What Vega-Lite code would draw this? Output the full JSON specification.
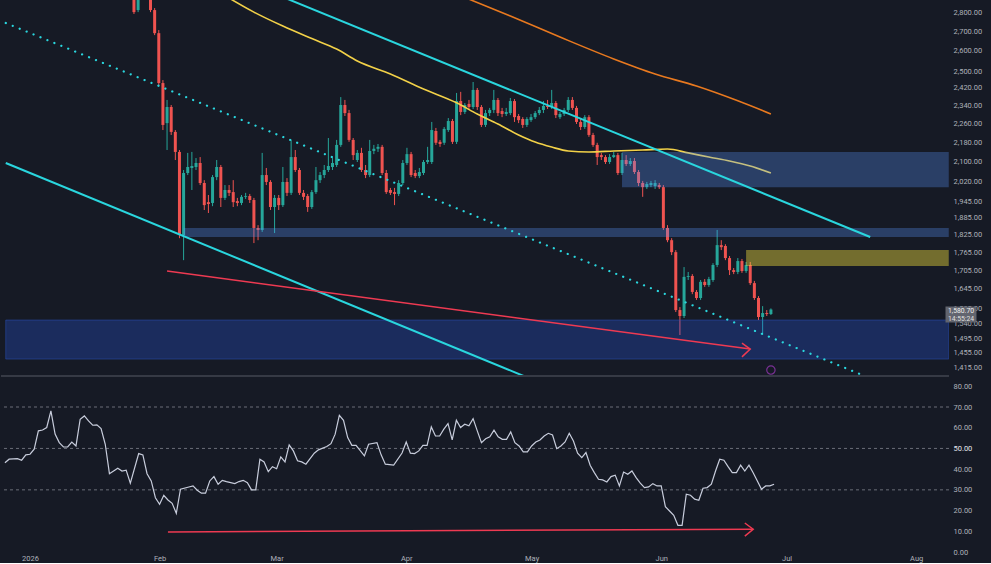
{
  "$schema": "https://vega.github.io/schema/vega-lite/v6.json",
  "background": "#161a25",
  "padding": {"left": 0, "top": 0, "right": 9, "bottom": 1},
  "spacing": 2,
  "bounds": "flush",
  "datasets": {
    "candles": [
      {"date":"2026-01-25","o":2977,"h":3034,"l":2790,"c":2800},
      {"date":"2026-01-26","o":2811,"h":2977,"l":2800,"c":2894},
      {"date":"2026-01-29","o":2894,"h":2921,"l":2800,"c":2811},
      {"date":"2026-01-30","o":2811,"h":2822,"l":2679,"c":2689},
      {"date":"2026-01-31","o":2689,"h":2705,"l":2429,"c":2443},
      {"date":"2026-02-01","o":2443,"h":2457,"l":2232,"c":2254},
      {"date":"2026-02-02","o":2262,"h":2365,"l":2148,"c":2333},
      {"date":"2026-02-03","o":2333,"h":2342,"l":2211,"c":2224},
      {"date":"2026-02-04","o":2224,"h":2232,"l":2107,"c":2140},
      {"date":"2026-02-05","o":2140,"h":2148,"l":1813,"c":1824},
      {"date":"2026-02-06","o":1824,"h":2067,"l":1738,"c":2055},
      {"date":"2026-02-07","o":2055,"h":2136,"l":2047,"c":2079},
      {"date":"2026-02-08","o":2075,"h":2140,"l":1989,"c":2083},
      {"date":"2026-02-09","o":2079,"h":2115,"l":2067,"c":2095},
      {"date":"2026-02-10","o":2095,"h":2119,"l":2008,"c":2016},
      {"date":"2026-02-11","o":2016,"h":2027,"l":1914,"c":1932},
      {"date":"2026-02-12","o":1943,"h":1970,"l":1903,"c":1936},
      {"date":"2026-02-13","o":1940,"h":2047,"l":1928,"c":2039},
      {"date":"2026-02-14","o":2039,"h":2107,"l":2027,"c":2079},
      {"date":"2026-02-15","o":2079,"h":2087,"l":1925,"c":1959},
      {"date":"2026-02-16","o":1959,"h":2008,"l":1951,"c":1989},
      {"date":"2026-02-17","o":1989,"h":2008,"l":1966,"c":1978},
      {"date":"2026-02-18","o":1981,"h":2027,"l":1925,"c":1943},
      {"date":"2026-02-19","o":1947,"h":1959,"l":1928,"c":1940},
      {"date":"2026-02-20","o":1940,"h":1970,"l":1932,"c":1963},
      {"date":"2026-02-21","o":1963,"h":1978,"l":1955,"c":1966},
      {"date":"2026-02-22","o":1966,"h":1974,"l":1940,"c":1951},
      {"date":"2026-02-23","o":1951,"h":1959,"l":1796,"c":1849},
      {"date":"2026-02-24","o":1849,"h":1859,"l":1806,"c":1842},
      {"date":"2026-02-25","o":1842,"h":2136,"l":1835,"c":2047},
      {"date":"2026-02-26","o":2047,"h":2075,"l":2008,"c":2020},
      {"date":"2026-02-27","o":2020,"h":2027,"l":1914,"c":1925},
      {"date":"2026-02-28","o":1925,"h":1970,"l":1831,"c":1959},
      {"date":"2026-03-01","o":1959,"h":1970,"l":1914,"c":1932},
      {"date":"2026-03-02","o":1932,"h":2079,"l":1925,"c":2020},
      {"date":"2026-03-03","o":2020,"h":2035,"l":1966,"c":1978},
      {"date":"2026-03-04","o":1978,"h":2190,"l":1970,"c":2119},
      {"date":"2026-03-05","o":2119,"h":2148,"l":2059,"c":2067},
      {"date":"2026-03-06","o":2067,"h":2075,"l":1970,"c":1978},
      {"date":"2026-03-07","o":1978,"h":1989,"l":1951,"c":1963},
      {"date":"2026-03-08","o":1966,"h":1974,"l":1907,"c":1925},
      {"date":"2026-03-09","o":1925,"h":1989,"l":1918,"c":1981},
      {"date":"2026-03-10","o":1981,"h":2079,"l":1974,"c":2027},
      {"date":"2026-03-11","o":2027,"h":2059,"l":2016,"c":2047},
      {"date":"2026-03-12","o":2047,"h":2087,"l":2035,"c":2067},
      {"date":"2026-03-13","o":2067,"h":2198,"l":2059,"c":2083},
      {"date":"2026-03-14","o":2079,"h":2115,"l":2067,"c":2095},
      {"date":"2026-03-15","o":2087,"h":2190,"l":2079,"c":2169},
      {"date":"2026-03-16","o":2169,"h":2378,"l":2161,"c":2342},
      {"date":"2026-03-17","o":2342,"h":2365,"l":2293,"c":2306},
      {"date":"2026-03-18","o":2306,"h":2320,"l":2182,"c":2190},
      {"date":"2026-03-19","o":2190,"h":2198,"l":2107,"c":2127},
      {"date":"2026-03-20","o":2107,"h":2148,"l":2099,"c":2136},
      {"date":"2026-03-21","o":2136,"h":2157,"l":2059,"c":2067},
      {"date":"2026-03-22","o":2067,"h":2087,"l":2035,"c":2047},
      {"date":"2026-03-23","o":2047,"h":2190,"l":2039,"c":2144},
      {"date":"2026-03-24","o":2144,"h":2169,"l":2131,"c":2153},
      {"date":"2026-03-25","o":2153,"h":2173,"l":2140,"c":2161},
      {"date":"2026-03-26","o":2161,"h":2169,"l":2047,"c":2055},
      {"date":"2026-03-27","o":2055,"h":2067,"l":1974,"c":1981},
      {"date":"2026-03-28","o":1989,"h":1997,"l":1970,"c":1978},
      {"date":"2026-03-29","o":1981,"h":1997,"l":1932,"c":1974},
      {"date":"2026-03-30","o":1974,"h":2027,"l":1966,"c":2016},
      {"date":"2026-03-31","o":2016,"h":2107,"l":2008,"c":2095},
      {"date":"2026-04-01","o":2095,"h":2157,"l":2087,"c":2131},
      {"date":"2026-04-02","o":2131,"h":2140,"l":2039,"c":2047},
      {"date":"2026-04-03","o":2055,"h":2067,"l":2035,"c":2043},
      {"date":"2026-04-04","o":2043,"h":2075,"l":2035,"c":2059},
      {"date":"2026-04-05","o":2055,"h":2107,"l":2047,"c":2099},
      {"date":"2026-04-06","o":2099,"h":2161,"l":2091,"c":2107},
      {"date":"2026-04-07","o":2099,"h":2267,"l":2091,"c":2232},
      {"date":"2026-04-08","o":2228,"h":2241,"l":2169,"c":2178},
      {"date":"2026-04-09","o":2182,"h":2190,"l":2161,"c":2173},
      {"date":"2026-04-10","o":2178,"h":2245,"l":2169,"c":2237},
      {"date":"2026-04-11","o":2232,"h":2284,"l":2224,"c":2271},
      {"date":"2026-04-12","o":2271,"h":2280,"l":2173,"c":2182},
      {"date":"2026-04-13","o":2182,"h":2397,"l":2173,"c":2360},
      {"date":"2026-04-14","o":2360,"h":2402,"l":2297,"c":2311},
      {"date":"2026-04-15","o":2311,"h":2351,"l":2302,"c":2342},
      {"date":"2026-04-16","o":2347,"h":2365,"l":2320,"c":2333},
      {"date":"2026-04-17","o":2333,"h":2448,"l":2324,"c":2411},
      {"date":"2026-04-18","o":2411,"h":2420,"l":2320,"c":2333},
      {"date":"2026-04-19","o":2333,"h":2342,"l":2245,"c":2254},
      {"date":"2026-04-20","o":2254,"h":2320,"l":2245,"c":2306},
      {"date":"2026-04-21","o":2306,"h":2329,"l":2293,"c":2320},
      {"date":"2026-04-22","o":2320,"h":2411,"l":2306,"c":2365},
      {"date":"2026-04-23","o":2365,"h":2374,"l":2293,"c":2306},
      {"date":"2026-04-24","o":2315,"h":2329,"l":2288,"c":2302},
      {"date":"2026-04-25","o":2302,"h":2329,"l":2293,"c":2311},
      {"date":"2026-04-26","o":2306,"h":2374,"l":2297,"c":2360},
      {"date":"2026-04-27","o":2360,"h":2369,"l":2267,"c":2288},
      {"date":"2026-04-28","o":2293,"h":2302,"l":2262,"c":2275},
      {"date":"2026-04-29","o":2280,"h":2288,"l":2241,"c":2254},
      {"date":"2026-04-30","o":2254,"h":2288,"l":2245,"c":2280},
      {"date":"2026-05-01","o":2275,"h":2302,"l":2267,"c":2288},
      {"date":"2026-05-02","o":2288,"h":2315,"l":2280,"c":2306},
      {"date":"2026-05-03","o":2306,"h":2333,"l":2297,"c":2320},
      {"date":"2026-05-04","o":2320,"h":2360,"l":2306,"c":2338},
      {"date":"2026-05-05","o":2338,"h":2365,"l":2324,"c":2333},
      {"date":"2026-05-06","o":2333,"h":2411,"l":2324,"c":2351},
      {"date":"2026-05-07","o":2351,"h":2360,"l":2284,"c":2297},
      {"date":"2026-05-08","o":2288,"h":2311,"l":2280,"c":2302},
      {"date":"2026-05-09","o":2302,"h":2329,"l":2293,"c":2320},
      {"date":"2026-05-10","o":2320,"h":2378,"l":2311,"c":2365},
      {"date":"2026-05-11","o":2365,"h":2378,"l":2320,"c":2329},
      {"date":"2026-05-12","o":2329,"h":2338,"l":2258,"c":2267},
      {"date":"2026-05-13","o":2267,"h":2284,"l":2232,"c":2245},
      {"date":"2026-05-14","o":2245,"h":2297,"l":2237,"c":2288},
      {"date":"2026-05-15","o":2288,"h":2297,"l":2203,"c":2211},
      {"date":"2026-05-16","o":2211,"h":2220,"l":2161,"c":2169},
      {"date":"2026-05-17","o":2169,"h":2178,"l":2087,"c":2119},
      {"date":"2026-05-18","o":2127,"h":2136,"l":2107,"c":2119},
      {"date":"2026-05-19","o":2119,"h":2127,"l":2091,"c":2099},
      {"date":"2026-05-20","o":2099,"h":2131,"l":2091,"c":2119},
      {"date":"2026-05-21","o":2119,"h":2140,"l":2115,"c":2127},
      {"date":"2026-05-22","o":2127,"h":2136,"l":2047,"c":2055},
      {"date":"2026-05-23","o":2055,"h":2136,"l":2047,"c":2107},
      {"date":"2026-05-24","o":2107,"h":2127,"l":2083,"c":2091},
      {"date":"2026-05-25","o":2091,"h":2115,"l":2083,"c":2103},
      {"date":"2026-05-26","o":2103,"h":2115,"l":2051,"c":2059},
      {"date":"2026-05-27","o":2059,"h":2067,"l":2004,"c":2016},
      {"date":"2026-05-28","o":2016,"h":2024,"l":1963,"c":2000},
      {"date":"2026-05-29","o":2000,"h":2020,"l":1993,"c":2012},
      {"date":"2026-05-30","o":2008,"h":2024,"l":2000,"c":2016},
      {"date":"2026-05-31","o":2004,"h":2027,"l":1993,"c":2016},
      {"date":"2026-06-01","o":2008,"h":2016,"l":1993,"c":2000},
      {"date":"2026-06-02","o":2000,"h":2008,"l":1842,"c":1849},
      {"date":"2026-06-03","o":1849,"h":1859,"l":1799,"c":1806},
      {"date":"2026-06-04","o":1806,"h":1813,"l":1755,"c":1765},
      {"date":"2026-06-05","o":1765,"h":1772,"l":1573,"c":1579},
      {"date":"2026-06-06","o":1579,"h":1588,"l":1505,"c":1561},
      {"date":"2026-06-07","o":1561,"h":1715,"l":1555,"c":1683},
      {"date":"2026-06-08","o":1683,"h":1699,"l":1673,"c":1686},
      {"date":"2026-06-09","o":1686,"h":1692,"l":1628,"c":1635},
      {"date":"2026-06-10","o":1635,"h":1641,"l":1610,"c":1616},
      {"date":"2026-06-11","o":1616,"h":1673,"l":1610,"c":1667},
      {"date":"2026-06-12","o":1667,"h":1676,"l":1651,"c":1657},
      {"date":"2026-06-13","o":1657,"h":1683,"l":1651,"c":1676},
      {"date":"2026-06-14","o":1673,"h":1728,"l":1667,"c":1722},
      {"date":"2026-06-15","o":1722,"h":1842,"l":1715,"c":1789},
      {"date":"2026-06-16","o":1789,"h":1806,"l":1772,"c":1782},
      {"date":"2026-06-17","o":1786,"h":1792,"l":1738,"c":1745},
      {"date":"2026-06-18","o":1745,"h":1752,"l":1689,"c":1705},
      {"date":"2026-06-19","o":1705,"h":1712,"l":1692,"c":1699},
      {"date":"2026-06-20","o":1699,"h":1745,"l":1692,"c":1735},
      {"date":"2026-06-21","o":1735,"h":1742,"l":1696,"c":1702},
      {"date":"2026-06-22","o":1702,"h":1732,"l":1696,"c":1722},
      {"date":"2026-06-23","o":1722,"h":1732,"l":1657,"c":1663},
      {"date":"2026-06-24","o":1663,"h":1670,"l":1610,"c":1616},
      {"date":"2026-06-25","o":1616,"h":1622,"l":1549,"c":1558},
      {"date":"2026-06-26","o":1558,"h":1591,"l":1505,"c":1570},
      {"date":"2026-06-27","o":1570,"h":1579,"l":1561,"c":1567},
      {"date":"2026-06-28","o":1567,"h":1584,"l":1564,"c":1580.7}
    ],
    "ma": [
      {"ma":"MA100","date":"2026-02-16","price":2890},
      {"ma":"MA100","date":"2026-02-23","price":2800},
      {"ma":"MA100","date":"2026-03-02","price":2726},
      {"ma":"MA100","date":"2026-03-09","price":2661},
      {"ma":"MA100","date":"2026-03-15","price":2608},
      {"ma":"MA100","date":"2026-03-20","price":2549},
      {"ma":"MA100","date":"2026-03-28","price":2486},
      {"ma":"MA100","date":"2026-04-05","price":2415},
      {"ma":"MA100","date":"2026-04-13","price":2352},
      {"ma":"MA100","date":"2026-04-18","price":2302},
      {"ma":"MA100","date":"2026-04-23","price":2258},
      {"ma":"MA100","date":"2026-04-28","price":2211},
      {"ma":"MA100","date":"2026-05-02","price":2181},
      {"ma":"MA100","date":"2026-05-06","price":2160},
      {"ma":"MA100","date":"2026-05-10","price":2144},
      {"ma":"MA100","date":"2026-05-15","price":2140},
      {"ma":"MA100","date":"2026-05-21","price":2144},
      {"ma":"MA100","date":"2026-05-28","price":2148},
      {"ma":"MA100","date":"2026-06-03","price":2152},
      {"ma":"MA100","date":"2026-06-08","price":2136},
      {"ma":"MA100","date":"2026-06-13","price":2119},
      {"ma":"MA100","date":"2026-06-18","price":2103},
      {"ma":"MA100","date":"2026-06-23","price":2083},
      {"ma":"MA100","date":"2026-06-28","price":2055},
      {"ma":"MA200","date":"2026-04-15","price":2880},
      {"ma":"MA200","date":"2026-04-26","price":2779},
      {"ma":"MA200","date":"2026-05-08","price":2669},
      {"ma":"MA200","date":"2026-05-21","price":2559},
      {"ma":"MA200","date":"2026-05-31","price":2486},
      {"ma":"MA200","date":"2026-06-10","price":2429},
      {"ma":"MA200","date":"2026-06-20","price":2361},
      {"ma":"MA200","date":"2026-06-28","price":2302}
    ],
    "lines": [
      {"line":"upper","date":"2026-03-03","price":2873},
      {"line":"upper","date":"2026-07-22","price":1817},
      {"line":"lower","date":"2025-12-25","price":2095},
      {"line":"lower","date":"2026-05-03","price":1374},
      {"line":"dotted","date":"2025-12-25","price":2742},
      {"line":"dotted","date":"2026-07-28","price":1358}
    ],
    "zones": [
      {"zone":"resistance","start":"2026-05-23","end":"2026-08-10","top":2140,"bottom":2000},
      {"zone":"resistance","start":"2026-02-06","end":"2026-08-10","top":1849,"bottom":1817},
      {"zone":"target","start":"2026-06-22","end":"2026-08-10","top":1772,"bottom":1719},
      {"zone":"support","start":"2025-12-25","end":"2026-08-10","top":1549,"bottom":1437}
    ],
    "arrowPrice": [
      {"seg":"shaft","i":0,"date":"2026-02-02","v":1702},
      {"seg":"shaft","i":1,"date":"2026-06-23","v":1465},
      {"seg":"head","i":0,"date":"2026-06-21","v":1482},
      {"seg":"head","i":1,"date":"2026-06-23","v":1465},
      {"seg":"head","i":2,"date":"2026-06-21","v":1443}
    ],
    "arrowRsi": [
      {"seg":"shaft","i":0,"date":"2026-02-03","v":9.7},
      {"seg":"shaft","i":1,"date":"2026-06-23","v":11.0},
      {"seg":"head","i":0,"date":"2026-06-21","v":14.0},
      {"seg":"head","i":1,"date":"2026-06-23","v":11.0},
      {"seg":"head","i":2,"date":"2026-06-21","v":7.7}
    ],
    "rsi": [
      {"date":"2025-12-26","v":43.1},{"date":"2025-12-27","v":44.8},{"date":"2025-12-29","v":45.1},
      {"date":"2025-12-30","v":44.3},{"date":"2025-12-31","v":46.9},{"date":"2026-01-01","v":47.2},
      {"date":"2026-01-02","v":49.6},{"date":"2026-01-03","v":58.5},{"date":"2026-01-04","v":58.9},
      {"date":"2026-01-05","v":60.1},{"date":"2026-01-06","v":68.1},{"date":"2026-01-07","v":56.9},
      {"date":"2026-01-08","v":52.8},{"date":"2026-01-09","v":50.7},{"date":"2026-01-10","v":50.7},
      {"date":"2026-01-11","v":53.1},{"date":"2026-01-12","v":51.2},{"date":"2026-01-13","v":64.1},
      {"date":"2026-01-14","v":65.7},{"date":"2026-01-15","v":63.3},{"date":"2026-01-16","v":61.2},
      {"date":"2026-01-17","v":61.4},{"date":"2026-01-18","v":59.6},{"date":"2026-01-19","v":52.0},
      {"date":"2026-01-20","v":37.8},{"date":"2026-01-22","v":40.4},{"date":"2026-01-23","v":39.1},
      {"date":"2026-01-24","v":39.5},{"date":"2026-01-25","v":33.2},{"date":"2026-01-27","v":47.5},
      {"date":"2026-01-28","v":46.9},{"date":"2026-01-29","v":37.8},{"date":"2026-01-30","v":34.3},
      {"date":"2026-01-31","v":26.2},{"date":"2026-02-01","v":23.0},{"date":"2026-02-02","v":27.4},
      {"date":"2026-02-03","v":25.1},{"date":"2026-02-04","v":23.5},{"date":"2026-02-05","v":18.7},
      {"date":"2026-02-06","v":30.3},{"date":"2026-02-08","v":31.4},{"date":"2026-02-09","v":31.9},
      {"date":"2026-02-10","v":29.8},{"date":"2026-02-11","v":28.4},{"date":"2026-02-12","v":28.4},
      {"date":"2026-02-13","v":34.3},{"date":"2026-02-14","v":36.4},{"date":"2026-02-15","v":32.7},
      {"date":"2026-02-16","v":34.6},{"date":"2026-02-17","v":34.0},{"date":"2026-02-19","v":33.0},
      {"date":"2026-02-20","v":34.0},{"date":"2026-02-21","v":34.6},{"date":"2026-02-22","v":33.5},
      {"date":"2026-02-23","v":30.0},{"date":"2026-02-24","v":30.0},{"date":"2026-02-25","v":44.8},
      {"date":"2026-02-26","v":43.5},{"date":"2026-02-27","v":38.8},{"date":"2026-02-28","v":41.2},
      {"date":"2026-03-01","v":40.2},{"date":"2026-03-02","v":45.9},{"date":"2026-03-03","v":43.5},
      {"date":"2026-03-04","v":51.7},{"date":"2026-03-05","v":48.8},{"date":"2026-03-06","v":44.0},
      {"date":"2026-03-07","v":43.5},{"date":"2026-03-08","v":42.4},{"date":"2026-03-09","v":45.1},
      {"date":"2026-03-10","v":47.7},{"date":"2026-03-11","v":49.3},{"date":"2026-03-13","v":50.9},
      {"date":"2026-03-14","v":52.3},{"date":"2026-03-15","v":56.9},{"date":"2026-03-16","v":66.0},
      {"date":"2026-03-17","v":63.6},{"date":"2026-03-18","v":55.2},{"date":"2026-03-19","v":51.5},
      {"date":"2026-03-20","v":51.5},{"date":"2026-03-22","v":46.4},{"date":"2026-03-23","v":52.0},
      {"date":"2026-03-25","v":52.8},{"date":"2026-03-26","v":46.9},{"date":"2026-03-27","v":42.4},
      {"date":"2026-03-29","v":42.0},{"date":"2026-03-31","v":47.8},{"date":"2026-04-01","v":53.1},
      {"date":"2026-04-02","v":47.7},{"date":"2026-04-03","v":47.5},{"date":"2026-04-04","v":48.8},
      {"date":"2026-04-05","v":51.5},{"date":"2026-04-06","v":51.5},{"date":"2026-04-07","v":60.4},
      {"date":"2026-04-08","v":56.0},{"date":"2026-04-09","v":56.0},{"date":"2026-04-10","v":59.3},
      {"date":"2026-04-11","v":62.0},{"date":"2026-04-12","v":54.1},{"date":"2026-04-13","v":63.6},
      {"date":"2026-04-14","v":60.1},{"date":"2026-04-15","v":61.7},{"date":"2026-04-16","v":60.9},
      {"date":"2026-04-17","v":64.4},{"date":"2026-04-18","v":58.5},{"date":"2026-04-19","v":52.8},
      {"date":"2026-04-20","v":54.7},{"date":"2026-04-21","v":55.6},{"date":"2026-04-22","v":58.8},
      {"date":"2026-04-23","v":55.6},{"date":"2026-04-24","v":54.4},{"date":"2026-04-25","v":54.4},
      {"date":"2026-04-26","v":58.0},{"date":"2026-04-27","v":52.8},{"date":"2026-04-28","v":51.2},
      {"date":"2026-04-29","v":48.3},{"date":"2026-04-30","v":48.3},{"date":"2026-05-01","v":51.2},
      {"date":"2026-05-02","v":53.1},{"date":"2026-05-03","v":54.1},{"date":"2026-05-04","v":56.0},
      {"date":"2026-05-05","v":57.3},{"date":"2026-05-06","v":56.5},{"date":"2026-05-07","v":49.9},
      {"date":"2026-05-08","v":51.2},{"date":"2026-05-09","v":53.1},{"date":"2026-05-10","v":57.3},
      {"date":"2026-05-11","v":53.6},{"date":"2026-05-12","v":47.7},{"date":"2026-05-13","v":45.6},
      {"date":"2026-05-14","v":48.0},{"date":"2026-05-15","v":41.9},{"date":"2026-05-16","v":38.3},
      {"date":"2026-05-17","v":35.1},{"date":"2026-05-18","v":34.8},{"date":"2026-05-19","v":33.8},
      {"date":"2026-05-20","v":36.4},{"date":"2026-05-21","v":37.1},{"date":"2026-05-22","v":31.9},
      {"date":"2026-05-23","v":38.6},{"date":"2026-05-24","v":37.5},{"date":"2026-05-25","v":39.1},
      {"date":"2026-05-26","v":35.9},{"date":"2026-05-27","v":33.2},{"date":"2026-05-28","v":31.1},
      {"date":"2026-05-29","v":31.4},{"date":"2026-05-30","v":33.0},{"date":"2026-05-31","v":31.9},
      {"date":"2026-06-01","v":31.9},{"date":"2026-06-02","v":21.9},{"date":"2026-06-03","v":19.8},
      {"date":"2026-06-04","v":17.7},{"date":"2026-06-05","v":12.9},{"date":"2026-06-06","v":12.9},
      {"date":"2026-06-07","v":27.9},{"date":"2026-06-08","v":27.4},{"date":"2026-06-09","v":25.5},
      {"date":"2026-06-10","v":25.0},{"date":"2026-06-11","v":30.8},{"date":"2026-06-12","v":31.1},
      {"date":"2026-06-13","v":32.7},{"date":"2026-06-14","v":39.1},{"date":"2026-06-15","v":44.8},
      {"date":"2026-06-16","v":44.3},{"date":"2026-06-17","v":41.2},{"date":"2026-06-18","v":38.3},
      {"date":"2026-06-19","v":38.3},{"date":"2026-06-20","v":41.9},{"date":"2026-06-21","v":39.1},
      {"date":"2026-06-22","v":41.9},{"date":"2026-06-23","v":38.3},{"date":"2026-06-24","v":34.3},
      {"date":"2026-06-25","v":30.3},{"date":"2026-06-26","v":31.9},{"date":"2026-06-27","v":31.9},
      {"date":"2026-06-28","v":32.7}
    ],
    "levels": [{"v":70},{"v":50},{"v":30}],
    "last": [{"price":1580.7,"label":"1,580.70","timer":"14:55:24"}],
    "alert": [{"date":"2026-06-28","price":1407}]
  },
  "vconcat": [
    {
      "width": 948,
      "height": 376,
      "layer": [
        {
          "data": {"name": "candles"},
          "mark": {"type": "rule", "clip": true, "strokeWidth": 1},
          "encoding": {
            "x": {"field": "date", "type": "temporal", "scale": {"type": "utc", "domain": [{"year":2025,"month":12,"date":25,"hours":1,"minutes":26,"utc":true},{"year":2026,"month":8,"date":8,"hours":20,"minutes":24,"utc":true}]}, "axis": null},
            "y": {"field": "l", "type": "quantitative", "title": null,
              "scale": {"type": "log", "domain": [1391, 2866], "nice": false, "zero": false},
              "axis": {"orient": "right", "values": [2800,2700,2600,2500,2420,2340,2260,2180,2100,2020,1945,1885,1825,1765,1705,1645,1585,1540,1495,1455,1415], "format": ",.2f", "labelOverlap": false, "labelBound": false, "labelFlush": false}},
            "y2": {"field": "h"},
            "color": {"condition": {"test": "datum.c >= datum.o", "value": "#26a69a"}, "value": "#ef5350"}
          }
        },
        {
          "data": {"name": "candles"},
          "mark": {"type": "bar", "clip": true, "width": 3},
          "encoding": {
            "x": {"field": "date", "type": "temporal"},
            "y": {"field": "o", "type": "quantitative", "title": null},
            "y2": {"field": "c"},
            "color": {"condition": {"test": "datum.c >= datum.o", "value": "#26a69a"}, "value": "#ef5350"}
          }
        },
        {
          "data": {"name": "ma"},
          "transform": [{"filter": "datum.ma == 'MA100'"}],
          "mark": {"type": "line", "clip": true, "color": "#f2d148", "strokeWidth": 1.6, "interpolate": "monotone"},
          "encoding": {
            "x": {"field": "date", "type": "temporal"},
            "y": {"field": "price", "type": "quantitative", "title": null}
          }
        },
        {
          "data": {"name": "ma"},
          "transform": [{"filter": "datum.ma == 'MA200'"}],
          "mark": {"type": "line", "clip": true, "color": "#e8791f", "strokeWidth": 1.6, "interpolate": "monotone"},
          "encoding": {
            "x": {"field": "date", "type": "temporal"},
            "y": {"field": "price", "type": "quantitative", "title": null}
          }
        },
        {
          "data": {"name": "zones"},
          "transform": [{"filter": "datum.zone == 'support'"}],
          "mark": {"type": "rect", "clip": true, "color": "#2962ff", "opacity": 0.26},
          "encoding": {
            "x": {"field": "start", "type": "temporal"},
            "x2": {"field": "end"},
            "y": {"field": "top", "type": "quantitative", "title": null},
            "y2": {"field": "bottom"}
          }
        },
        {
          "data": {"name": "zones"},
          "transform": [{"filter": "datum.zone == 'support'"}],
          "mark": {"type": "rect", "clip": true, "fill": null, "stroke": "#2f57c8", "strokeWidth": 1, "strokeOpacity": 0.45},
          "encoding": {
            "x": {"field": "start", "type": "temporal"},
            "x2": {"field": "end"},
            "y": {"field": "top", "type": "quantitative", "title": null},
            "y2": {"field": "bottom"}
          }
        },
        {
          "data": {"name": "zones"},
          "transform": [{"filter": "datum.zone == 'resistance'"}],
          "mark": {"type": "rect", "clip": true, "color": "#5a96ff", "opacity": 0.3},
          "encoding": {
            "x": {"field": "start", "type": "temporal"},
            "x2": {"field": "end"},
            "y": {"field": "top", "type": "quantitative", "title": null},
            "y2": {"field": "bottom"}
          }
        },
        {
          "data": {"name": "zones"},
          "transform": [{"filter": "datum.zone == 'target'"}],
          "mark": {"type": "rect", "clip": true, "color": "#ffeb3b", "opacity": 0.4},
          "encoding": {
            "x": {"field": "start", "type": "temporal"},
            "x2": {"field": "end"},
            "y": {"field": "top", "type": "quantitative", "title": null},
            "y2": {"field": "bottom"}
          }
        },
        {
          "data": {"name": "lines"},
          "transform": [{"filter": "datum.line != 'dotted'"}],
          "mark": {"type": "line", "clip": true, "color": "#2ad6de", "strokeWidth": 2},
          "encoding": {
            "x": {"field": "date", "type": "temporal"},
            "y": {"field": "price", "type": "quantitative", "title": null},
            "detail": {"field": "line"}
          }
        },
        {
          "data": {"name": "lines"},
          "transform": [{"filter": "datum.line == 'dotted'"}],
          "mark": {"type": "line", "clip": true, "color": "#2ad6de", "strokeWidth": 2.2, "strokeDash": [0.1, 7.4], "strokeCap": "round"},
          "encoding": {
            "x": {"field": "date", "type": "temporal"},
            "y": {"field": "price", "type": "quantitative", "title": null}
          }
        },
        {
          "data": {"name": "arrowPrice"},
          "mark": {"type": "line", "clip": true, "color": "#ee3a52", "strokeWidth": 1.5},
          "encoding": {
            "x": {"field": "date", "type": "temporal"},
            "y": {"field": "v", "type": "quantitative", "title": null},
            "detail": {"field": "seg"},
            "order": {"field": "i"}
          }
        },
        {
          "data": {"name": "alert"},
          "mark": {"type": "point", "shape": "circle", "filled": false, "size": 70, "color": "#a43bc4", "strokeWidth": 1.2},
          "encoding": {
            "x": {"field": "date", "type": "temporal"},
            "y": {"field": "price", "type": "quantitative", "title": null}
          }
        },
        {
          "data": {"name": "last"},
          "mark": {"type": "rule", "color": "#363a45", "strokeWidth": 2},
          "encoding": {
            "y": {"datum": 1391, "type": "quantitative", "title": null}
          }
        },
        {
          "data": {"name": "last"},
          "mark": {"type": "rect", "width": 31, "height": 16, "xOffset": 17, "yOffset": 5, "color": "#62656f"},
          "encoding": {
            "x": {"datum": {"year":2026,"month":8,"date":8,"hours":20,"minutes":24,"utc":true}, "type": "temporal"},
            "y": {"field": "price", "type": "quantitative", "title": null}
          }
        },
        {
          "data": {"name": "last"},
          "mark": {"type": "text", "dx": 17, "dy": 1, "align": "center", "baseline": "middle", "color": "#f0f0f0", "fontSize": 6.8, "font": "Roboto"},
          "encoding": {
            "x": {"datum": {"year":2026,"month":8,"date":8,"hours":20,"minutes":24,"utc":true}, "type": "temporal"},
            "y": {"field": "price", "type": "quantitative", "title": null},
            "text": {"field": "label"}
          }
        },
        {
          "data": {"name": "last"},
          "mark": {"type": "text", "dx": 17, "dy": 9, "align": "center", "baseline": "middle", "color": "#e0e0e0", "fontSize": 6.8, "font": "Roboto"},
          "encoding": {
            "x": {"datum": {"year":2026,"month":8,"date":8,"hours":20,"minutes":24,"utc":true}, "type": "temporal"},
            "y": {"field": "price", "type": "quantitative", "title": null},
            "text": {"field": "timer"}
          }
        }
      ]
    },
    {
      "width": 948,
      "height": 174,
      "encoding": {
        "x": {"field": "date", "type": "temporal",
          "scale": {"type": "utc", "domain": [{"year":2025,"month":12,"date":25,"hours":1,"minutes":26,"utc":true},{"year":2026,"month":8,"date":8,"hours":20,"minutes":24,"utc":true}]},
          "axis": {"title": null, "values": [
            {"year":2026,"month":1,"date":1,"utc":true},{"year":2026,"month":2,"date":1,"utc":true},
            {"year":2026,"month":3,"date":1,"utc":true},{"year":2026,"month":4,"date":1,"utc":true},
            {"year":2026,"month":5,"date":1,"utc":true},{"year":2026,"month":6,"date":1,"utc":true},
            {"year":2026,"month":7,"date":1,"utc":true},{"year":2026,"month":8,"date":1,"utc":true}],
            "labelExpr": "utcmonth(datum.value) == 0 ? '2026' : utcFormat(datum.value, '%b')",
            "labelPadding": 2, "labelOverlap": false}},
        "y": {"field": "v", "type": "quantitative", "title": null,
          "scale": {"domain": [0, 84], "nice": false, "zero": false},
          "axis": {"orient": "right", "values": [0,10,20,30,40,50,60,70,80], "format": ".2f", "labelOverlap": false, "labelBound": false, "labelFlush": false,
            "labelColor": {"condition": {"test": "datum.value == 50", "value": "#e6e8ee"}, "value": "#aeb1ba"}}}
      },
      "layer": [
        {
          "data": {"name": "levels"},
          "mark": {"type": "rule", "color": "#6a6d78", "strokeWidth": 1, "strokeDash": [3, 3]},
          "encoding": {
            "x": null
          }
        },
        {
          "data": {"name": "rsi"},
          "mark": {"type": "line", "color": "#c8cddc", "strokeWidth": 1.2},
          "encoding": {}
        },
        {
          "data": {"name": "arrowRsi"},
          "mark": {"type": "line", "color": "#ee3a52", "strokeWidth": 1.5},
          "encoding": {
            "detail": {"field": "seg"},
            "order": {"field": "i"}
          }
        }
      ]
    }
  ],
  "config": {
    "view": {"stroke": null},
    "font": "Roboto",
    "axis": {
      "labelFont": "Roboto",
      "labelFontSize": 7.5,
      "labelColor": "#aeb1ba",
      "domain": false,
      "ticks": false,
      "grid": false,
      "labelPadding": 4
    }
  }
}
